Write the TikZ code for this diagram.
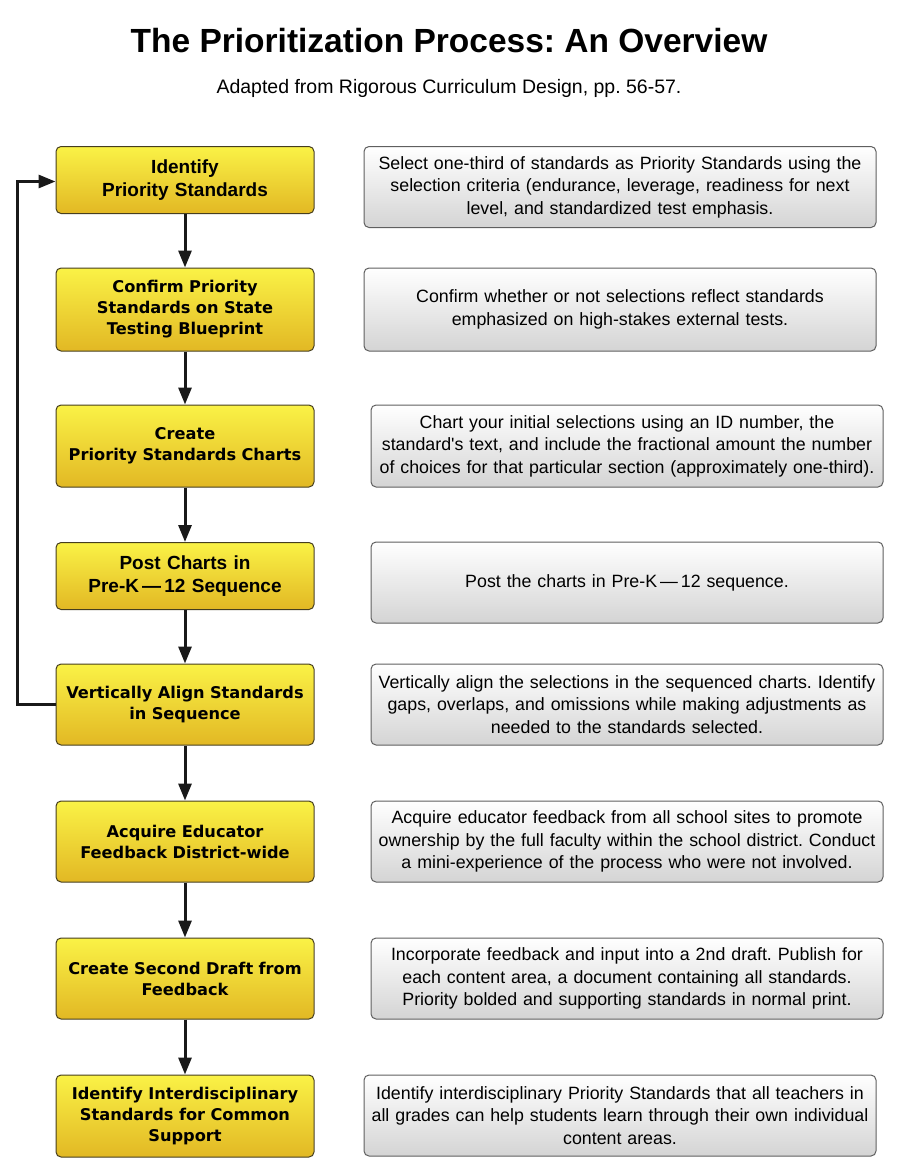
\documentclass[tikz,border=0pt]{standalone}
\usepackage{fontspec}
\setmainfont{Liberation Sans}[Ligatures=TeXOff]
\newfontfamily\verd{DejaVu Sans}
\usetikzlibrary{arrows.meta}
\definecolor{yltop}{RGB}{250,242,70}
\definecolor{ylbot}{RGB}{226,184,36}
\definecolor{grbot}{RGB}{212,212,212}
\definecolor{lborder}{RGB}{70,62,30}
\definecolor{rborder}{RGB}{95,95,95}
\tikzset{
  lbox/.style={draw=lborder, line width=1pt, rounded corners=5pt, top color=yltop, bottom color=ylbot,
    minimum width=258pt, text width=256pt, inner xsep=1pt, inner ysep=0pt, align=center},
  arialtxt/.style={font=\fontsize{19}{23}\selectfont\bfseries},
  verdtxt/.style={font=\verd\fontsize{16.2}{21}\selectfont\bfseries},
  rbox/.style={draw=rborder, line width=1pt, rounded corners=5pt, top color=white, bottom color=grbot,
    minimum width=512pt, text width=512pt, inner xsep=0pt, inner ysep=0pt, align=center,
    font=\fontsize{17.8}{22.5}\selectfont},
  arr/.style={line width=3pt, draw=black!90, -{Triangle[length=17pt,width=13pt]}},
}
\begin{document}
\frenchspacing
\begin{tikzpicture}[x=1pt,y=-1pt]
\useasboundingbox (0,0) rectangle (898,1172);
\node[font=\fontsize{33.5}{38}\selectfont\bfseries] (title) at (449,41) {The Prioritization Process: An Overview};
\node[font=\fontsize{19.5}{23}\selectfont] (sub) at (449,88) {Adapted from Rigorous Curriculum Design, pp. 56-57.};

\node[lbox, arialtxt, minimum height=67pt] (l1) at (185,180) {Identify\\Priority Standards};
\node[lbox, verdtxt, minimum height=83pt] (l2) at (185,309.5) {Confirm Priority\\Standards on State\\Testing Blueprint};
\node[lbox, verdtxt, minimum height=82pt] (l3) at (185,446) {Create\\Priority Standards Charts};
\node[lbox, arialtxt, minimum height=67pt] (l4) at (185,576) {Post Charts in\\Pre-K\,—\,12 Sequence};
\node[lbox, verdtxt, minimum height=81pt] (l5) at (185,704.5) {Vertically Align Standards\\in Sequence};
\node[lbox, verdtxt, minimum height=81pt] (l6) at (185,841.5) {Acquire Educator\\Feedback District-wide};
\node[lbox, verdtxt, minimum height=81pt] (l7) at (185,978.5) {Create Second Draft from\\Feedback};
\node[lbox, verdtxt, minimum height=82pt] (l8) at (185,1116) {Identify Interdisciplinary\\Standards for Common\\Support};

\node[rbox, minimum height=81pt] (r1) at (620,187) {Select one-third of standards as Priority Standards using the\\selection criteria (endurance, leverage, readiness for next\\level, and standardized test emphasis.};
\node[rbox, minimum height=83pt] (r2) at (620,309.5) {Confirm whether or not selections reflect standards\\emphasized on high-stakes external tests.};
\node[rbox, minimum height=82pt] (r3) at (627,446) {Chart your initial selections using an ID number, the\\standard's text, and include the fractional amount the number\\of choices for that particular section (approximately one-third).};
\node[rbox, minimum height=81pt] (r4) at (627,582.5) {Post the charts in Pre-K\,—\,12 sequence.};
\node[rbox, minimum height=81pt] (r5) at (627,704.5) {Vertically align the selections in the sequenced charts. Identify\\gaps, overlaps, and omissions while making adjustments as\\needed to the standards selected.};
\node[rbox, minimum height=81pt] (r6) at (627,841.5) {Acquire educator feedback from all school sites to promote\\ownership by the full faculty within the school district. Conduct\\a mini-experience of the process who were not involved.};
\node[rbox, minimum height=81pt] (r7) at (627,978.5) {Incorporate feedback and input into a 2nd draft. Publish for\\each content area, a document containing all standards.\\Priority bolded and supporting standards in normal print.};
\node[rbox, minimum height=81pt] (r8) at (620,1115.5) {Identify interdisciplinary Priority Standards that all teachers in\\all grades can help students learn through their own individual\\content areas.};

\draw[arr] (l1) -- (l2);
\draw[arr] (l2) -- (l3);
\draw[arr] (l3) -- (l4);
\draw[arr] (l4) -- (l5);
\draw[arr] (l5) -- (l6);
\draw[arr] (l6) -- (l7);
\draw[arr] (l7) -- (l8);
\coordinate (loopx) at (17,0);
\draw[arr] (l5.west) -- (l5.west -| loopx) -- ([yshift=-1.5pt]l1.west -| loopx) -- ([yshift=-1.5pt]l1.west);
\end{tikzpicture}
\end{document}
